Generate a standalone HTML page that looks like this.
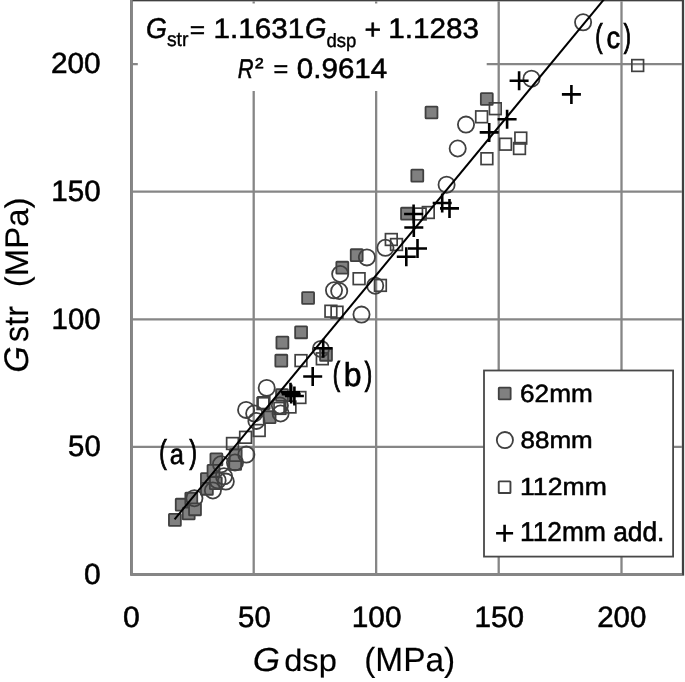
<!DOCTYPE html>
<html><head><meta charset="utf-8"><title>G str vs G dsp</title>
<style>
html,body{margin:0;padding:0;background:#fff;}
body{width:685px;height:682px;overflow:hidden;}
svg{display:block;}
text{font-family:"Liberation Sans",sans-serif;fill:#000;stroke:#000;text-rendering:geometricPrecision;}
.i{font-style:italic;}

</style></head><body>
<svg width="685" height="682" viewBox="0 0 685 682">
<rect width="685" height="682" fill="#fff"/>
<rect x="131.45" y="0.2" width="551.55" height="574.3" fill="none" stroke="#404040" stroke-width="2.3"/>
<g stroke="#868686" stroke-width="2.3" fill="none">
<line x1="253.7" y1="1.3" x2="253.7" y2="574.5"/>
<line x1="376.15" y1="1.3" x2="376.15" y2="574.5"/>
<line x1="498.7" y1="1.3" x2="498.7" y2="574.5"/>
<line x1="621.5" y1="1.3" x2="621.5" y2="574.5"/>
<line x1="131.45" y1="64.05" x2="681.9" y2="64.05"/>
<line x1="131.45" y1="191.65" x2="681.9" y2="191.65"/>
<line x1="131.45" y1="319.3" x2="681.9" y2="319.3"/>
<line x1="131.45" y1="446.9" x2="681.9" y2="446.9"/>
<path d="M131.45 0V574.5H682.2"/>
</g>
<rect x="137.8" y="3.5" width="348.9" height="87.5" fill="#fff"/>
<g fill="#808080" stroke="#404040" stroke-width="1.8">
<rect x="168.95" y="513.95" width="11.9" height="11.9" rx="0.6"/>
<rect x="175.75" y="498.75" width="11.9" height="11.9" rx="0.6"/>
<rect x="185.35" y="492.75" width="11.9" height="11.9" rx="0.6"/>
<rect x="182.75" y="507.55" width="11.9" height="11.9" rx="0.6"/>
<rect x="189.05" y="503.35" width="11.9" height="11.9" rx="0.6"/>
<rect x="200.95" y="473.05" width="11.9" height="11.9" rx="0.6"/>
<rect x="200.95" y="482.85" width="11.9" height="11.9" rx="0.6"/>
<rect x="210.45" y="453.35" width="11.9" height="11.9" rx="0.6"/>
<rect x="207.55" y="464.85" width="11.9" height="11.9" rx="0.6"/>
<rect x="229.25" y="458.05" width="11.9" height="11.9" rx="0.6"/>
<rect x="229.75" y="449.25" width="11.9" height="11.9" rx="0.6"/>
<rect x="276.05" y="389.05" width="11.9" height="11.9" rx="0.6"/>
<rect x="263.65" y="411.25" width="11.9" height="11.9" rx="0.6"/>
<rect x="275.35" y="354.75" width="11.9" height="11.9" rx="0.6"/>
<rect x="302.15" y="292.05" width="11.9" height="11.9" rx="0.6"/>
<rect x="295.15" y="326.35" width="11.9" height="11.9" rx="0.6"/>
<rect x="276.45" y="336.65" width="11.9" height="11.9" rx="0.6"/>
<rect x="320.05" y="348.85" width="11.9" height="11.9" rx="0.6"/>
<rect x="350.75" y="249.25" width="11.9" height="11.9" rx="0.6"/>
<rect x="336.35" y="261.75" width="11.9" height="11.9" rx="0.6"/>
<rect x="411.35" y="169.65" width="11.9" height="11.9" rx="0.6"/>
<rect x="401.05" y="207.75" width="11.9" height="11.9" rx="0.6"/>
<rect x="480.85" y="93.05" width="11.9" height="11.9" rx="0.6"/>
<rect x="425.55" y="106.55" width="11.9" height="11.9" rx="0.6"/>
<rect x="209.85" y="477.15" width="11.9" height="11.9" rx="0.6"/>
</g>
<g fill="none" stroke="#404040" stroke-width="1.7">
<rect x="226.65" y="437.65" width="11.7" height="11.7"/>
<rect x="239.75" y="431.45" width="11.7" height="11.7"/>
<rect x="253.35" y="424.65" width="11.7" height="11.7"/>
<rect x="294.05" y="391.65" width="11.7" height="11.7"/>
<rect x="284.15" y="401.15" width="11.7" height="11.7"/>
<rect x="274.05" y="402.55" width="11.7" height="11.7"/>
<rect x="258.05" y="396.85" width="11.7" height="11.7"/>
<rect x="257.15" y="397.75" width="11.7" height="11.7"/>
<rect x="295.15" y="354.75" width="11.7" height="11.7"/>
<rect x="316.45" y="352.95" width="11.7" height="11.7"/>
<rect x="325.05" y="305.35" width="11.7" height="11.7"/>
<rect x="331.15" y="306.35" width="11.7" height="11.7"/>
<rect x="353.25" y="272.85" width="11.7" height="11.7"/>
<rect x="374.55" y="279.55" width="11.7" height="11.7"/>
<rect x="385.45" y="233.65" width="11.7" height="11.7"/>
<rect x="390.65" y="238.65" width="11.7" height="11.7"/>
<rect x="414.35" y="208.15" width="11.7" height="11.7"/>
<rect x="422.45" y="206.65" width="11.7" height="11.7"/>
<rect x="489.45" y="102.85" width="11.7" height="11.7"/>
<rect x="475.75" y="110.95" width="11.7" height="11.7"/>
<rect x="499.65" y="138.35" width="11.7" height="11.7"/>
<rect x="514.95" y="132.25" width="11.7" height="11.7"/>
<rect x="513.65" y="142.65" width="11.7" height="11.7"/>
<rect x="481.05" y="152.85" width="11.7" height="11.7"/>
<rect x="631.85" y="59.65" width="11.7" height="11.7"/>
</g>
<g fill="none" stroke="#404040" stroke-width="1.8">
<circle cx="194.4" cy="498.2" r="8.1"/>
<circle cx="212.9" cy="490.5" r="8.1"/>
<circle cx="246.3" cy="454.6" r="8.1"/>
<circle cx="235.0" cy="462.5" r="8.1"/>
<circle cx="221.0" cy="464.3" r="8.1"/>
<circle cx="224.0" cy="476.3" r="8.1"/>
<circle cx="225.8" cy="481.6" r="8.1"/>
<circle cx="217.6" cy="480.4" r="8.1"/>
<circle cx="266.7" cy="387.9" r="8.1"/>
<circle cx="246.1" cy="409.9" r="8.1"/>
<circle cx="254.2" cy="413.5" r="8.1"/>
<circle cx="256.4" cy="420.9" r="8.1"/>
<circle cx="280.6" cy="413.5" r="8.1"/>
<circle cx="279.9" cy="405.5" r="8.1"/>
<circle cx="320.9" cy="348.9" r="8.1"/>
<circle cx="334.0" cy="290.3" r="8.1"/>
<circle cx="339.2" cy="291.0" r="8.1"/>
<circle cx="361.5" cy="314.6" r="8.1"/>
<circle cx="366.9" cy="257.4" r="8.1"/>
<circle cx="340.2" cy="274.0" r="8.1"/>
<circle cx="375.2" cy="285.7" r="8.1"/>
<circle cx="385.4" cy="247.8" r="8.1"/>
<circle cx="446.6" cy="184.7" r="8.1"/>
<circle cx="466.0" cy="124.6" r="8.1"/>
<circle cx="457.7" cy="148.5" r="8.1"/>
<circle cx="583.1" cy="22.3" r="8.1"/>
<circle cx="531.5" cy="78.7" r="8.1"/>
</g>
<path d="M303.2 376.5h19M312.7 367.0v19M281.0 392.3h19M290.5 382.8v19M281.7 394.1h19M291.2 384.6v19M284.9 396.0h19M294.4 386.5v19M313.7 348.3h19M323.2 338.8v19M396.8 256.7h19M406.3 247.2v19M404.3 227.5h19M413.8 218.0v19M408.0 248.5h19M417.5 239.0v19M404.1 214.0h19M413.6 204.5v19M432.7 203.0h19M442.2 193.5v19M440.0 208.4h19M449.5 198.9v19M497.6 119.2h19M507.1 109.7v19M479.7 132.4h19M489.2 122.9v19M509.6 80.7h19M519.1 71.2v19M561.9 94.4h19M571.4 84.9v19" fill="none" stroke="#000" stroke-width="2.6"/>
<line x1="174.6" y1="519.3" x2="605.1" y2="-2" stroke="#000" stroke-width="2.0"/>
<rect x="484" y="370.5" width="189.1" height="186.1" fill="#fff" stroke="#484848" stroke-width="1.8"/>
<rect x="498.75" y="387.55" width="11.9" height="11.9" fill="#808080" stroke="#404040" stroke-width="1.8" rx="0.6"/>
<circle cx="504.9" cy="440.1" r="8.1" fill="none" stroke="#404040" stroke-width="1.8"/>
<rect x="498.75" y="481.34999999999997" width="11.7" height="11.7" fill="none" stroke="#404040" stroke-width="1.9" rx="0.6"/>
<path d="M496.1 533.3h17M504.6 524.8v17" stroke="#000" stroke-width="2.6" fill="none"/>
<text font-size="26" stroke-width="0.55" transform="translate(520.02,401.60) scale(1.0072,0.9574)">62mm</text>
<text font-size="26" stroke-width="0.55" transform="translate(520.52,448.03) scale(1.0000,0.9043)">88mm</text>
<text font-size="26" stroke-width="0.55" transform="translate(520.03,494.84) scale(1.0239,0.9542)">112mm</text>
<text font-size="26" stroke-width="0.55" transform="translate(520.05,541.25) scale(1.0122,1.0435)">112mm add.</text>
<g><text font-size="30" stroke-width="0.55" transform="translate(50.98,72.69) scale(0.9927,0.9679)">200</text><text font-size="30" stroke-width="0.55" transform="translate(51.35,200.88) scale(0.9852,0.9817)">150</text><text font-size="30" stroke-width="0.55" transform="translate(51.56,328.68) scale(0.9810,0.9817)">100</text><text font-size="30" stroke-width="0.55" transform="translate(68.05,456.08) scale(0.9794,0.9817)">50</text><text font-size="30" stroke-width="0.55" transform="translate(84.12,584.19) scale(1.0000,0.9725)">0</text></g>
<g><text font-size="30" stroke-width="0.55" transform="translate(123.02,626.88) scale(1.0068,0.9817)">0</text><text font-size="30" stroke-width="0.55" transform="translate(238.05,626.88) scale(0.9794,0.9817)">50</text><text font-size="30" stroke-width="0.55" transform="translate(351.74,626.88) scale(0.9937,0.9817)">100</text><text font-size="30" stroke-width="0.55" transform="translate(474.44,626.88) scale(0.9915,0.9817)">150</text><text font-size="30" stroke-width="0.55" transform="translate(597.19,626.88) scale(0.9844,0.9817)">200</text></g>
<g><text font-size="34" stroke-width="1.1" transform="translate(159.15,463.35) scale(0.6535,0.9601)">(</text><text font-size="31" stroke-width="0.7" transform="translate(169.86,464.45) scale(0.8204,0.9209)">a</text><text font-size="34" stroke-width="1.1" transform="translate(189.40,463.35) scale(0.6535,0.9601)">)</text></g>
<g><text font-size="34" stroke-width="1.1" transform="translate(332.67,385.38) scale(0.6436,0.9693)">(</text><text font-size="34" stroke-width="0.7" transform="translate(343.81,386.42) scale(0.9404,0.9745)">b</text><text font-size="34" stroke-width="1.1" transform="translate(364.70,385.38) scale(0.6535,0.9693)">)</text></g>
<g><text font-size="34" stroke-width="1.1" transform="translate(595.27,47.13) scale(0.6436,0.9632)">(</text><text font-size="31" stroke-width="0.7" transform="translate(606.41,47.71) scale(0.8803,0.9831)">c</text><text font-size="34" stroke-width="1.1" transform="translate(623.79,47.13) scale(0.6337,0.9632)">)</text></g>
<g><text class="i" font-size="29.5" stroke-width="0.55" transform="translate(145.99,38.29) scale(0.9100,0.9671)">G</text><text font-size="19.5" stroke-width="0.4" transform="translate(166.90,46.04) scale(0.9929,1.0266)">str</text><text font-size="29.5" stroke-width="0.55" transform="translate(189.71,37.76) scale(0.8919,0.8159)">=</text><text font-size="29.5" stroke-width="0.55" transform="translate(213.41,38.30) scale(1.0075,0.9531)">1.1631</text><text class="i" font-size="29.5" stroke-width="0.55" transform="translate(304.96,38.29) scale(0.9343,0.9671)">G</text><text font-size="19.5" stroke-width="0.4" transform="translate(326.48,46.77) scale(0.9507,0.9837)">dsp</text><text font-size="29.5" stroke-width="0.55" transform="translate(364.42,38.51) scale(0.9662,0.9502)">+</text><text font-size="29.5" stroke-width="0.55" transform="translate(388.21,38.40) scale(1.0057,0.9577)">1.1283</text></g>
<g><text class="i" font-size="29.5" stroke-width="0.55" transform="translate(237.66,77.75) scale(0.7431,0.9183)">R</text><text font-size="29.5" stroke-width="0.55" transform="translate(254.90,75.40) scale(0.8710,0.8281)">²</text><text font-size="29.5" stroke-width="0.55" transform="translate(273.45,77.26) scale(0.8581,0.8159)">=</text><text font-size="29.5" stroke-width="0.55" transform="translate(296.82,77.80) scale(1.0017,0.9531)">0.9614</text></g>
<g><text class="i" font-size="32" stroke-width="0.15" transform="translate(252.74,670.66) scale(1.0971,1.0375)">G</text><text font-size="32" stroke-width="0.15" transform="translate(284.20,670.72) scale(1.0193,0.9699)">dsp</text><text font-size="32" stroke-width="0.15" transform="translate(364.19,670.72) scale(1.0439,1.0468)">(MPa)</text></g>
<g><text class="i" font-size="32" stroke-width="0.15" transform="translate(28.25,372.82) rotate(-90) scale(1.0655,1.0684)">G</text><text font-size="32" stroke-width="0.15" transform="translate(28.45,341.94) rotate(-90) scale(1.0132,1.0686)">str</text><text font-size="32" stroke-width="0.15" transform="translate(28.17,287.18) rotate(-90) scale(1.0283,1.0234)">(MPa)</text></g>
</svg></body></html>
